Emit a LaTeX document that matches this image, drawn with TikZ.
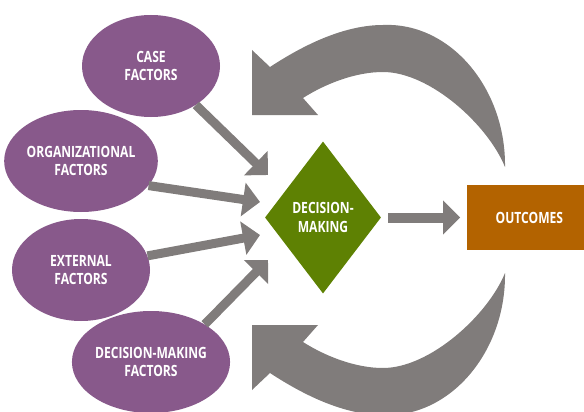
\documentclass[tikz,border=0pt]{standalone}
\usepackage{fontspec}
\newfontfamily\factorfont{Open Sans}[FakeStretch=0.78]
\usetikzlibrary{arrows.meta,shapes.geometric,positioning}

\definecolor{factorpurple}{HTML}{88598B}
\definecolor{decisiongreen}{HTML}{5E8103}
\definecolor{outcomeorange}{HTML}{B36300}
\definecolor{arrowgray}{HTML}{807C7B}

\newcommand{\labelfont}{\factorfont\bfseries\fontsize{15.5}{18.5}\selectfont}

% curved feedback arrow (upper one, pixel coordinates)
\newcommand{\returnarrow}{%
  \fill[arrowgray] (505,167) .. controls (506,88) and (450,22) .. (383,25)
    .. controls (345,25) and (305,44) .. (270,67)
    -- (252,50) -- (252,115) -- (318,115) -- (303,98)
    .. controls (325,84) and (355,72) .. (383,72)
    .. controls (430,72) and (488,125) .. (505,167) -- cycle;}

\begin{document}
\begin{tikzpicture}[x=1pt,y=-1pt,
  factor/.style={ellipse,fill=factorpurple,minimum width=138pt,minimum height=102pt,
    inner sep=0pt,text=white,align=center,font=\labelfont},
  decision/.style={diamond,fill=decisiongreen,minimum width=116pt,minimum height=152pt,
    inner sep=0pt,text=white,align=center,font=\labelfont},
  outcome/.style={rectangle,fill=outcomeorange,minimum width=124pt,minimum height=65pt,
    inner sep=0pt,text=white,font=\labelfont},
  feed/.style={draw=arrowgray,line width=9pt,-{Triangle[length=17pt,width=33pt]}}]
  \useasboundingbox (0,0) rectangle (584,412);

  \node[factor] (case) at (151,66)  {CASE\\FACTORS};
  \node[factor] (org)  at (81,161)  {ORGANIZATIONAL\\FACTORS};
  \node[factor] (ext)  at (81,270)  {EXTERNAL\\FACTORS};
  \node[factor] (dmf)  at (151,362) {DECISION-MAKING\\FACTORS};

  \node[decision] (dm) at (323,217.5) {DECISION-\\MAKING};
  \node[outcome] (out) [right=86pt of dm] {OUTCOMES};

  % arrow tips in front of the diamond
  \coordinate (in1) at (268,175);
  \coordinate (in2) at (260,202);
  \coordinate (in3) at (260,235);
  \coordinate (in4) at (268,260);

  \draw[feed] (case.-41) -- (in1);
  \draw[feed] (org.-20)  -- (in2);
  \draw[feed] (ext.12)   -- (in3);
  \draw[feed] (dmf.35)   -- (in4);
  \draw[feed,line width=10pt,shorten <=7pt,shorten >=7pt] (dm) -- (out);

  % feedback loops
  \returnarrow
  \begin{scope}[shift={(0,440)},yscale=-1]
    \returnarrow
  \end{scope}
\end{tikzpicture}
\end{document}
